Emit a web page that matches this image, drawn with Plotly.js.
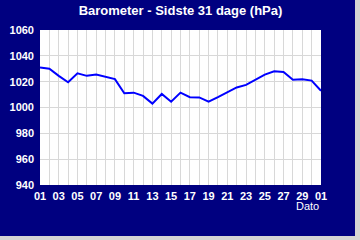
<!DOCTYPE html>
<html>
<head>
<meta charset="utf-8">
<script src="https://cdn.plot.ly/plotly-3.0.1.min.js"></script>
<style>
  html, body { margin: 0; padding: 0; background: #d4d4d4; width: 360px; height: 240px; overflow: hidden; }
  #chart { width: 355px; height: 236px; }
</style>
</head>
<body>
<div id="chart"></div>
<script>
const dayLabels = ["01","02","03","04","05","06","07","08","09","10","11","12","13","14","15","16","17","18","19","20","21","22","23","24","25","26","27","28","29","30","01"];
const pressure = [1031, 1030, 1024.5, 1019.5, 1026.5, 1024.5, 1025.5, 1023.5, 1022, 1011, 1011.5, 1009, 1003, 1010.5, 1004.5, 1011.5, 1008, 1007.8, 1004.5, 1008, 1011.5, 1015.5, 1017.5, 1021.5, 1025.5, 1028, 1027.5, 1021.5, 1021.8, 1020.8, 1013];
const yTicks = [940, 960, 980, 1000, 1020, 1040, 1060];
const titleText = "Barometer - Sidste 31 dage (hPa)";
const xTitle = "Dato";

const idx = dayLabels.map((_, i) => i);
const tickText = dayLabels.map((d, i) => (i % 2 === 0 ? d : ""));

const trace = {
  x: idx,
  y: pressure,
  type: "scatter",
  mode: "lines",
  line: { color: "#0000ff", width: 2 },
  hoverinfo: "skip"
};

const layout = {
  width: 355,
  height: 236,
  paper_bgcolor: "#000080",
  plot_bgcolor: "#ffffff",
  margin: { l: 40, r: 34, t: 30, b: 51, pad: 0 },
  showlegend: false,
  title: {
    text: "<b>" + titleText + "</b>",
    font: { family: "Liberation Sans, Arial, sans-serif", size: 13, color: "#ffffff" },
    x: 0.5, xanchor: "center", y: 0.955, yanchor: "middle", xref: "paper", yref: "container"
  },
  xaxis: {
    range: [0, idx.length - 1],
    tickmode: "array",
    tickvals: idx,
    ticktext: tickText,
    showgrid: true,
    gridcolor: "#d8d8d8",
    gridwidth: 1,
    zeroline: false,
    showline: false,
    ticks: "",
    ticklabelstandoff: 3,
    tickfont: { family: "Liberation Sans, Arial, sans-serif", size: 11, color: "#ffffff", weight: "bold" },
    fixedrange: true
  },
  yaxis: {
    range: [yTicks[0], yTicks[yTicks.length - 1]],
    tickmode: "array",
    tickvals: yTicks,
    ticktext: yTicks.map(String),
    showgrid: true,
    gridcolor: "#d8d8d8",
    gridwidth: 1,
    zeroline: false,
    showline: false,
    ticks: "",
    ticklabelstandoff: 5,
    tickfont: { family: "Liberation Sans, Arial, sans-serif", size: 11, color: "#ffffff", weight: "bold" },
    fixedrange: true
  },
  annotations: [{
    text: xTitle,
    xref: "paper", yref: "paper",
    x: 0.953, y: 0, xanchor: "center", yanchor: "top",
    yshift: -13,
    showarrow: false,
    font: { family: "Liberation Sans, Arial, sans-serif", size: 11, color: "#ffffff" }
  }]
};

Plotly.newPlot("chart", [trace], layout, { displayModeBar: false, staticPlot: true });
</script>
</body>
</html>
